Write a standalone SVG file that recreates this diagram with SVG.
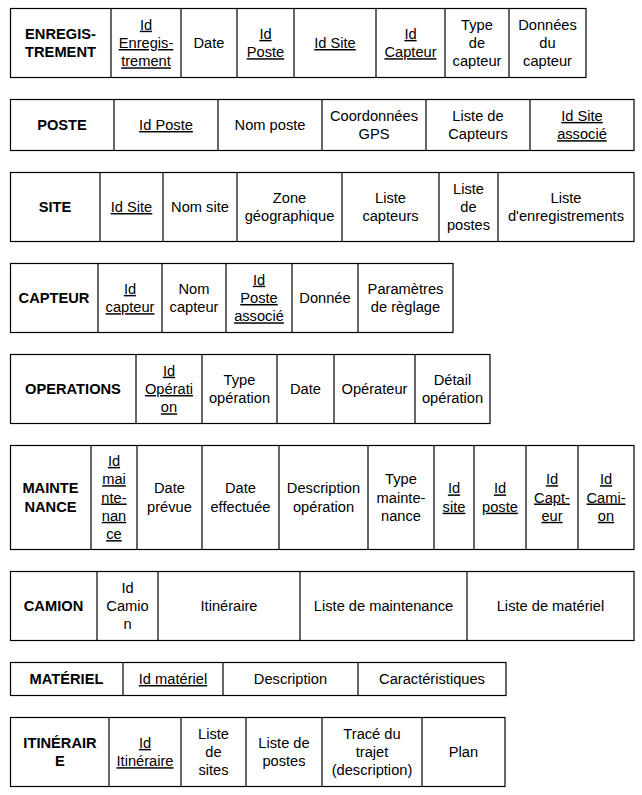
<svg xmlns="http://www.w3.org/2000/svg" width="642" height="795" viewBox="0 0 642 795">
<style>
rect.t{fill:#fff;stroke:#000;stroke-width:1.2}
line{stroke:#000;stroke-width:1.2}
text{font-family:"Liberation Sans",Arial,sans-serif;font-size:14.67px;fill:#000;text-anchor:middle}
text.h{font-weight:bold}
text.u{text-decoration:underline}
</style>
<rect width="642" height="795" fill="#fff"/>

<g id="enregistrement">
<rect class="t" x="10.5" y="8.5" width="575.5" height="69"/>
<line x1="111" y1="8.5" x2="111" y2="77.5"/><line x1="181" y1="8.5" x2="181" y2="77.5"/><line x1="237" y1="8.5" x2="237" y2="77.5"/><line x1="294" y1="8.5" x2="294" y2="77.5"/><line x1="376" y1="8.5" x2="376" y2="77.5"/><line x1="445" y1="8.5" x2="445" y2="77.5"/><line x1="509" y1="8.5" x2="509" y2="77.5"/>
<text class="h"><tspan x="60.5" y="38.9">ENREGIS-</tspan><tspan x="60.5" y="57.2">TREMENT</tspan></text>
<text class="u"><tspan x="146" y="29.7">Id</tspan><tspan x="146" y="48">Enregis-</tspan><tspan x="146" y="66.3">trement</tspan></text>
<text x="209" y="48">Date</text>
<text class="u"><tspan x="265.5" y="38.9">Id</tspan><tspan x="265.5" y="57.2">Poste</tspan></text>
<text class="u" x="335" y="48">Id Site</text>
<text class="u"><tspan x="410.5" y="38.9">Id</tspan><tspan x="410.5" y="57.2">Capteur</tspan></text>
<text><tspan x="477" y="29.7">Type</tspan><tspan x="477" y="48">de</tspan><tspan x="477" y="66.3">capteur</tspan></text>
<text><tspan x="547.5" y="29.7">Données</tspan><tspan x="547.5" y="48">du</tspan><tspan x="547.5" y="66.3">capteur</tspan></text>
</g>

<g id="poste">
<rect class="t" x="10.5" y="99.5" width="623.5" height="51"/>
<line x1="114" y1="99.5" x2="114" y2="150.5"/><line x1="218" y1="99.5" x2="218" y2="150.5"/><line x1="322" y1="99.5" x2="322" y2="150.5"/><line x1="426" y1="99.5" x2="426" y2="150.5"/><line x1="530" y1="99.5" x2="530" y2="150.5"/>
<text class="h" x="62" y="130">POSTE</text>
<text class="u" x="166" y="130">Id Poste</text>
<text x="270" y="130">Nom poste</text>
<text><tspan x="374" y="120.9">Coordonnées</tspan><tspan x="374" y="139.2">GPS</tspan></text>
<text><tspan x="478" y="120.9">Liste de</tspan><tspan x="478" y="139.2">Capteurs</tspan></text>
<text class="u"><tspan x="582" y="120.9">Id Site</tspan><tspan x="582" y="139.2">associé</tspan></text>
</g>

<g id="site">
<rect class="t" x="10.5" y="172.5" width="623.5" height="69"/>
<line x1="100" y1="172.5" x2="100" y2="241.5"/><line x1="163" y1="172.5" x2="163" y2="241.5"/><line x1="237" y1="172.5" x2="237" y2="241.5"/><line x1="342" y1="172.5" x2="342" y2="241.5"/><line x1="439" y1="172.5" x2="439" y2="241.5"/><line x1="498" y1="172.5" x2="498" y2="241.5"/>
<text class="h" x="55" y="212">SITE</text>
<text class="u" x="131.5" y="212">Id Site</text>
<text x="200" y="212">Nom site</text>
<text><tspan x="289.5" y="202.9">Zone</tspan><tspan x="289.5" y="221.2">géographique</tspan></text>
<text><tspan x="390.5" y="202.9">Liste</tspan><tspan x="390.5" y="221.2">capteurs</tspan></text>
<text><tspan x="468.5" y="193.7">Liste</tspan><tspan x="468.5" y="212">de</tspan><tspan x="468.5" y="230.3">postes</tspan></text>
<text><tspan x="566" y="202.9">Liste</tspan><tspan x="566" y="221.2">d'enregistrements</tspan></text>
</g>

<g id="capteur">
<rect class="t" x="10.5" y="263.5" width="442.5" height="69"/>
<line x1="98" y1="263.5" x2="98" y2="332.5"/><line x1="162" y1="263.5" x2="162" y2="332.5"/><line x1="226" y1="263.5" x2="226" y2="332.5"/><line x1="292" y1="263.5" x2="292" y2="332.5"/><line x1="358" y1="263.5" x2="358" y2="332.5"/>
<text class="h" x="54" y="303">CAPTEUR</text>
<text class="u"><tspan x="130" y="293.9">Id</tspan><tspan x="130" y="312.2">capteur</tspan></text>
<text><tspan x="194" y="293.9">Nom</tspan><tspan x="194" y="312.2">capteur</tspan></text>
<text class="u"><tspan x="259" y="284.7">Id</tspan><tspan x="259" y="303">Poste</tspan><tspan x="259" y="321.3">associé</tspan></text>
<text x="325" y="303">Donnée</text>
<text><tspan x="405.5" y="293.9">Paramètres</tspan><tspan x="405.5" y="312.2">de règlage</tspan></text>
</g>

<g id="operations">
<rect class="t" x="10.5" y="354.5" width="479.5" height="69"/>
<line x1="136" y1="354.5" x2="136" y2="423.5"/><line x1="202" y1="354.5" x2="202" y2="423.5"/><line x1="277" y1="354.5" x2="277" y2="423.5"/><line x1="334" y1="354.5" x2="334" y2="423.5"/><line x1="415" y1="354.5" x2="415" y2="423.5"/>
<text class="h" x="73" y="394">OPERATIONS</text>
<text class="u"><tspan x="169" y="375.7">Id</tspan><tspan x="169" y="394">Opérati</tspan><tspan x="169" y="412.3">on</tspan></text>
<text><tspan x="239.5" y="384.9">Type</tspan><tspan x="239.5" y="403.2">opération</tspan></text>
<text x="305.5" y="394">Date</text>
<text x="374.5" y="394">Opérateur</text>
<text><tspan x="452.5" y="384.9">Détail</tspan><tspan x="452.5" y="403.2">opération</tspan></text>
</g>

<g id="maintenance">
<rect class="t" x="10.5" y="445.5" width="623.5" height="104"/>
<line x1="91" y1="445.5" x2="91" y2="549.5"/><line x1="137" y1="445.5" x2="137" y2="549.5"/><line x1="202" y1="445.5" x2="202" y2="549.5"/><line x1="279" y1="445.5" x2="279" y2="549.5"/><line x1="368" y1="445.5" x2="368" y2="549.5"/><line x1="434" y1="445.5" x2="434" y2="549.5"/><line x1="474" y1="445.5" x2="474" y2="549.5"/><line x1="526" y1="445.5" x2="526" y2="549.5"/><line x1="578" y1="445.5" x2="578" y2="549.5"/>
<text class="h"><tspan x="50.5" y="493.4">MAINTE</tspan><tspan x="50.5" y="511.7">NANCE</tspan></text>
<text class="u"><tspan x="114" y="465.9">Id</tspan><tspan x="114" y="484.2">mai</tspan><tspan x="114" y="502.5">nte-</tspan><tspan x="114" y="520.8">nan</tspan><tspan x="114" y="539.1">ce</tspan></text>
<text><tspan x="169.5" y="493.4">Date</tspan><tspan x="169.5" y="511.7">prévue</tspan></text>
<text><tspan x="240.5" y="493.4">Date</tspan><tspan x="240.5" y="511.7">effectuée</tspan></text>
<text><tspan x="323.5" y="493.4">Description</tspan><tspan x="323.5" y="511.7">opération</tspan></text>
<text><tspan x="401" y="484.2">Type</tspan><tspan x="401" y="502.5">mainte-</tspan><tspan x="401" y="520.8">nance</tspan></text>
<text class="u"><tspan x="454" y="493.4">Id</tspan><tspan x="454" y="511.7">site</tspan></text>
<text class="u"><tspan x="500" y="493.4">Id</tspan><tspan x="500" y="511.7">poste</tspan></text>
<text class="u"><tspan x="552" y="484.2">Id</tspan><tspan x="552" y="502.5">Capt-</tspan><tspan x="552" y="520.8">eur</tspan></text>
<text class="u"><tspan x="606" y="484.2">Id</tspan><tspan x="606" y="502.5">Cami-</tspan><tspan x="606" y="520.8">on</tspan></text>
</g>

<g id="camion">
<rect class="t" x="10.5" y="571.5" width="623.5" height="69"/>
<line x1="97" y1="571.5" x2="97" y2="640.5"/><line x1="158" y1="571.5" x2="158" y2="640.5"/><line x1="300" y1="571.5" x2="300" y2="640.5"/><line x1="467" y1="571.5" x2="467" y2="640.5"/>
<text class="h" x="53.5" y="611">CAMION</text>
<text><tspan x="127.5" y="592.7">Id</tspan><tspan x="127.5" y="611">Camio</tspan><tspan x="127.5" y="629.3">n</tspan></text>
<text x="229" y="611">Itinéraire</text>
<text x="383.5" y="611">Liste de maintenance</text>
<text x="550.5" y="611">Liste de matériel</text>
</g>

<g id="materiel">
<rect class="t" x="10.5" y="662.5" width="495.5" height="33"/>
<line x1="123" y1="662.5" x2="123" y2="695.5"/><line x1="223" y1="662.5" x2="223" y2="695.5"/><line x1="358" y1="662.5" x2="358" y2="695.5"/>
<text class="h" x="66.5" y="684">MATÉRIEL</text>
<text class="u" x="173" y="684">Id matériel</text>
<text x="290.5" y="684">Description</text>
<text x="432" y="684">Caractéristiques</text>
</g>

<g id="itineraire">
<rect class="t" x="10.5" y="717.5" width="494.5" height="69"/>
<line x1="109" y1="717.5" x2="109" y2="786.5"/><line x1="181" y1="717.5" x2="181" y2="786.5"/><line x1="246" y1="717.5" x2="246" y2="786.5"/><line x1="322" y1="717.5" x2="322" y2="786.5"/><line x1="422" y1="717.5" x2="422" y2="786.5"/>
<text class="h"><tspan x="60" y="747.9">ITINÉRAIR</tspan><tspan x="60" y="766.2">E</tspan></text>
<text class="u"><tspan x="145" y="747.9">Id</tspan><tspan x="145" y="766.2">Itinéraire</tspan></text>
<text><tspan x="213.5" y="738.7">Liste</tspan><tspan x="213.5" y="757">de</tspan><tspan x="213.5" y="775.3">sites</tspan></text>
<text><tspan x="284" y="747.9">Liste de</tspan><tspan x="284" y="766.2">postes</tspan></text>
<text><tspan x="372" y="738.7">Tracé du</tspan><tspan x="372" y="757">trajet</tspan><tspan x="372" y="775.3">(description)</tspan></text>
<text x="463.5" y="757">Plan</text>
</g>
</svg>
